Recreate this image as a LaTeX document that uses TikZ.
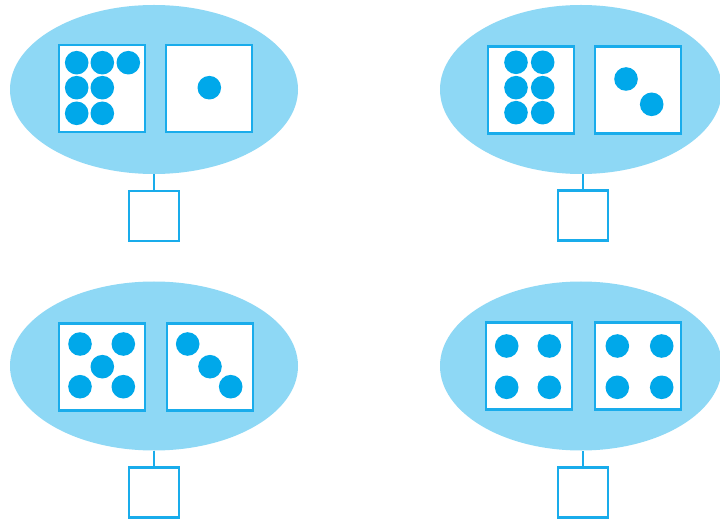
\documentclass[tikz,border=0pt]{standalone}
\usetikzlibrary{shapes.geometric}
\definecolor{ellblue}{HTML}{8ED8F5}
\definecolor{dotblue}{HTML}{00A8EA}
\definecolor{lineblue}{HTML}{19ACEB}
\tikzset{
  x=1pt, y=-1pt,
  group/.style={ellipse, fill=ellblue, draw=none, minimum width=288pt, minimum height=169pt, inner sep=0pt},
  card/.style={rectangle, draw=lineblue, line width=2.7pt, fill=white, minimum width=86pt, minimum height=87pt, inner sep=0pt},
  answer/.style={rectangle, draw=lineblue, line width=2.7pt, fill=white, minimum width=50pt, minimum height=50pt, inner sep=0pt},
  link/.style={draw=lineblue, line width=2.4pt},
  dot/.style={fill=dotblue}
}
\newcommand{\dotr}{11.8}
\begin{document}
\begin{tikzpicture}
\useasboundingbox (0,0) rectangle (720,521);
\fill[white] (0,0) rectangle (720,521);

% ---------- top left ----------
\node[group] (e1) at (154,89.5) {};
\node[card] (a1) at (102,88.5) {};
\node[card] (b1) at (209,88.5) {};
\node[answer] (r1) at (154,216) {};
\draw[link] (e1.south) -- (r1.north);
\foreach \p in {(76.7,62.7),(102.3,62.7),(128.3,62.7),(76.7,87.7),(102.3,87.7),(76.7,113.3),(102.3,113.3)}
  \fill[dot] \p circle (\dotr);
\fill[dot] (209.3,87.7) circle (\dotr);

% ---------- top right ----------
\node[group, minimum width=282pt] (e2) at (581,89.5) {};
\node[card] (a2) at (531,90) {};
\node[card] (b2) at (638,90) {};
\node[answer] (r2) at (583,215.5) {};
\draw[link] (r2.north) -- (r2.north |- e2.south);
\foreach \p in {(516,62.3),(542.7,62.3),(516,87.7),(542.7,87.7),(516,112.7),(542.7,112.7)}
  \fill[dot] \p circle (\dotr);
\fill[dot] (626,79) circle (\dotr);
\fill[dot] (651.7,104.3) circle (\dotr);

% ---------- bottom left ----------
\node[group] (e3) at (154,366) {};
\node[card] (a3) at (102,366.7) {};
\node[card] (b3) at (210,366.7) {};
\node[answer] (r3) at (154,492.5) {};
\draw[link] (e3.south) -- (r3.north);
\foreach \p in {(80,344),(123.3,344),(102.3,366.7),(80,386.7),(123.3,386.7)}
  \fill[dot] \p circle (\dotr);
\foreach \p in {(187.7,344),(210,366.7),(230.7,386.7)}
  \fill[dot] \p circle (\dotr);

% ---------- bottom right ----------
\node[group, minimum width=282pt] (e4) at (581,366) {};
\node[card] (a4) at (529,366) {};
\node[card] (b4) at (638,366) {};
\node[answer] (r4) at (583,492.5) {};
\draw[link] (r4.north) -- (r4.north |- e4.south);
\foreach \p in {(506.7,346),(549.3,346),(506.7,387.3),(549.3,387.3)}
  \fill[dot] \p circle (\dotr);
\foreach \p in {(617.3,346),(661.7,346),(617.3,387.3),(661.7,387.3)}
  \fill[dot] \p circle (\dotr);
\end{tikzpicture}
\end{document}
